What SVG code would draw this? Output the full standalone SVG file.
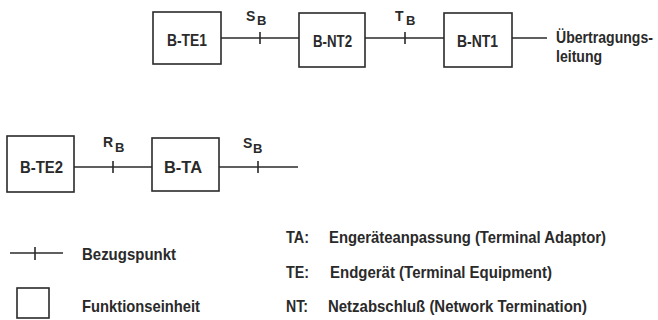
<svg xmlns="http://www.w3.org/2000/svg" width="658" height="320" viewBox="0 0 658 320">
<style>
  .box { fill: none; stroke: #2a2a2a; stroke-width: 1.6; }
  .ln { stroke: #2a2a2a; stroke-width: 1.4; fill: none; }
  .tk { stroke: #2a2a2a; stroke-width: 1.6; }
  text { font-family: "Liberation Sans", Arial, sans-serif; font-weight: bold; fill: #2a2a2a; }
  .nm { font-size: 16px; }
  .ub { font-size: 16px; }
  .lb { font-size: 14px; }
  .sb { font-size: 13px; }
  .lg { font-size: 17px; }
</style>
<rect width="658" height="320" fill="#ffffff"/>

<g id="connectors">
  <line class="ln" x1="221" y1="38" x2="299" y2="38"/>
  <line class="ln" x1="365" y1="38" x2="444" y2="38"/>
  <line class="ln" x1="512" y1="38" x2="547" y2="38"/>
  <line class="ln" x1="74" y1="167" x2="152" y2="167"/>
  <line class="ln" x1="219" y1="167" x2="298" y2="167"/>
</g>

<g id="refpoints">
  <g id="SB-top">
    <line class="tk" x1="260" y1="32" x2="260" y2="44"/>
    <text class="lb" x="246" y="21">S</text><text class="sb" x="257" y="25">B</text>
  </g>
  <g id="TB-top">
    <line class="tk" x1="405" y1="32" x2="405" y2="44"/>
    <text class="lb" x="395" y="21">T</text><text class="sb" x="406" y="25">B</text>
  </g>
  <g id="RB-bottom">
    <line class="tk" x1="113" y1="161" x2="113" y2="173"/>
    <text class="lb" x="103" y="147">R</text><text class="sb" x="115" y="152">B</text>
  </g>
  <g id="SB-bottom">
    <line class="tk" x1="258" y1="161" x2="258" y2="173"/>
    <text class="lb" x="243" y="148">S</text><text class="sb" x="253" y="153">B</text>
  </g>
</g>

<g id="B-TE1">
  <rect class="box" x="153" y="12" width="68" height="52"/>
  <text class="nm" x="167" y="46" textLength="40" lengthAdjust="spacingAndGlyphs">B-TE1</text>
</g>
<g id="B-NT2">
  <rect class="box" x="299" y="13" width="66" height="54"/>
  <text class="nm" x="313" y="47" textLength="39" lengthAdjust="spacingAndGlyphs">B-NT2</text>
</g>
<g id="B-NT1">
  <rect class="box" x="444" y="13" width="68" height="54"/>
  <text class="nm" x="457" y="47" textLength="41" lengthAdjust="spacingAndGlyphs">B-NT1</text>
</g>
<g id="uebertragungsleitung" transform="translate(556,0) scale(0.88,1)">
  <text class="ub" x="0" y="43">Übertragungs-</text>
  <text class="ub" x="0" y="62">leitung</text>
</g>
<g id="B-TE2">
  <rect class="box" x="7" y="136" width="67" height="56"/>
  <text class="nm" x="20" y="173" textLength="43" lengthAdjust="spacingAndGlyphs">B-TE2</text>
</g>
<g id="B-TA">
  <rect class="box" x="152" y="138" width="67" height="53"/>
  <text class="nm" x="164" y="173" textLength="38" lengthAdjust="spacingAndGlyphs">B-TA</text>
</g>

<g id="legend">
  <line class="ln" x1="10" y1="253" x2="63" y2="253"/>
  <line class="tk" x1="35" y1="247" x2="35" y2="260"/>
  <text class="lg" x="82" y="260" textLength="94" lengthAdjust="spacingAndGlyphs">Bezugspunkt</text>
  <rect class="box" x="17" y="288" width="32" height="30"/>
  <text class="lg" x="82" y="312" textLength="118" lengthAdjust="spacingAndGlyphs">Funktionseinheit</text>

  <text class="lg" x="286" y="243" textLength="23" lengthAdjust="spacingAndGlyphs">TA:</text>
  <text class="lg" x="329" y="243" textLength="277" lengthAdjust="spacingAndGlyphs">Engeräteanpassung  (Terminal Adaptor)</text>
  <text class="lg" x="286" y="278" textLength="23" lengthAdjust="spacingAndGlyphs">TE:</text>
  <text class="lg" x="330" y="278" textLength="222" lengthAdjust="spacingAndGlyphs">Endgerät  (Terminal Equipment)</text>
  <text class="lg" x="286" y="312" textLength="22" lengthAdjust="spacingAndGlyphs">NT:</text>
  <text class="lg" x="328" y="312" textLength="259" lengthAdjust="spacingAndGlyphs">Netzabschluß  (Network Termination)</text>
</g>
</svg>
